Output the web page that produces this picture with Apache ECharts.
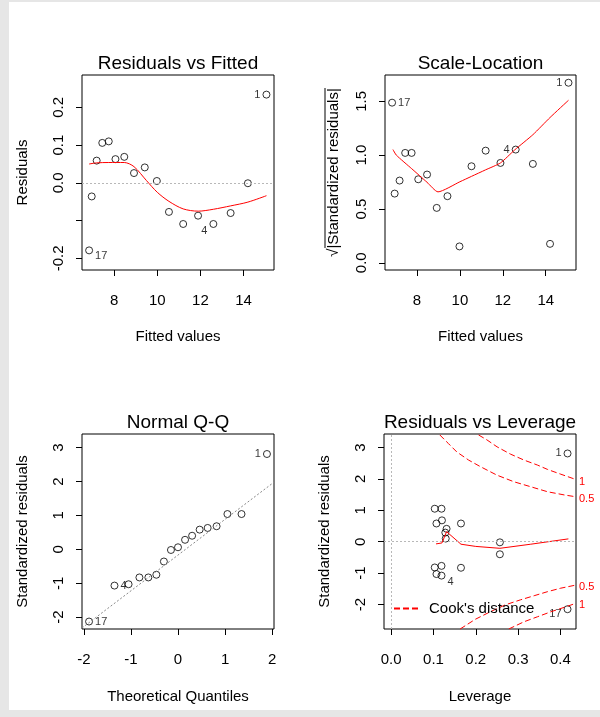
<!DOCTYPE html>
<html>
<head>
<meta charset="utf-8">
<title>lm diagnostics</title>
<script src="https://cdn.jsdelivr.net/npm/echarts@6/dist/echarts.min.js"></script>
<style>
html,body{margin:0;padding:0;background:#fff;}
#main{width:600px;height:717px;}
</style>
</head>
<body>
<div id="main"></div>
<script>
// values
var fittedVals   = [6.84, 6.96, 7.19, 7.45, 7.75, 8.06, 8.47, 8.92, 9.42, 9.98, 10.54, 11.2, 11.89, 12.6, 13.4, 14.2, 15.06];
var residVals    = [-0.179, -0.036, 0.059, 0.106, 0.110, 0.063, 0.069, 0.026, 0.041, 0.005, -0.077, -0.109, -0.087, -0.109, -0.080, -0.001, 0.234];
var sqrtStdResid = [1.488, 0.643, 0.764, 1.021, 1.021, 0.776, 0.820, 0.510, 0.619, 0.152, 0.897, 1.042, 0.928, 1.052, 0.919, 0.176, 1.673];
var fittedIds    = ['17', '', '', '', '', '', '', '', '', '', '', '', '', '4', '', '', '1'];

var residLowessX = [6.84, 7.19, 7.75, 8.47, 8.92, 9.5, 10.0, 10.54, 11.2, 11.9, 12.6, 13.4, 14.2, 15.06];
var residLowessY = [0.050, 0.053, 0.054, 0.054, 0.043, 0.006, -0.025, -0.049, -0.069, -0.075, -0.070, -0.061, -0.051, -0.034];
var scaleLowessX = [6.88, 7.04, 7.75, 8.47, 8.98, 10.0, 10.54, 11.2, 11.89, 12.56, 13.4, 14.2, 15.06];
var scaleLowessY = [1.052, 1.0, 0.875, 0.748, 0.659, 0.753, 0.803, 0.864, 0.928, 1.05, 1.19, 1.35, 1.51];

var theoQuant  = [-1.89, -1.35, -1.05, -0.82, -0.63, -0.46, -0.30, -0.15, 0, 0.15, 0.30, 0.46, 0.63, 0.82, 1.05, 1.35, 1.89];
var qqStdResid = [-2.13, -1.07, -1.03, -0.83, -0.83, -0.75, -0.36, -0.02, 0.06, 0.28, 0.40, 0.58, 0.63, 0.68, 1.04, 1.04, 2.81];
var qqIds      = ['17', '4', '', '', '', '', '', '', '', '', '', '', '', '', '', '', '1'];
var qqLineX = [-2.04, 2.04];
var qqLineY = [-2.32, 1.98];

var leverageVals = [0.103, 0.119, 0.107, 0.120, 0.131, 0.128, 0.129, 0.165, 0.257, 0.257, 0.103, 0.119, 0.107, 0.119, 0.165, 0.417, 0.417];
var levStdResid  = [1.05, 1.05, 0.58, 0.68, 0.41, 0.29, 0.10, 0.58, -0.02, -0.40, -0.82, -0.77, -1.03, -1.08, -0.83, 2.81, -2.15];
var levIds       = ['', '', '', '', '', '', '', '', '', '', '', '', '', '4', '', '1', '17'];
var levLowessX = [0.106, 0.120, 0.131, 0.165, 0.2, 0.257, 0.33, 0.419];
var levLowessY = [-0.07, -0.04, 0.32, -0.08, -0.15, -0.21, -0.08, 0.09];

// Cook's distance contours
var cookHalfUpX = [0.115, 0.135, 0.155, 0.183, 0.211, 0.250, 0.290, 0.330, 0.370, 0.409, 0.437];
var cookHalfUpY = [3.40, 3.13, 2.86, 2.60, 2.39, 2.12, 1.91, 1.75, 1.59, 1.49, 1.43];
var cookOneUpX  = [0.2066, 0.2266, 0.2505, 0.282, 0.314, 0.346, 0.370, 0.401, 0.437];
var cookOneUpY  = [3.40, 3.24, 3.02, 2.79, 2.60, 2.44, 2.30, 2.15, 1.98];
var cookHalfLoX = [0.163, 0.199, 0.2345, 0.270, 0.306, 0.338, 0.370, 0.401, 0.437];
var cookHalfLoY = [-2.78, -2.47, -2.23, -2.01, -1.85, -1.72, -1.59, -1.48, -1.38];
var cookOneLoX  = [0.278, 0.314, 0.346, 0.378, 0.409, 0.437];
var cookOneLoY  = [-2.78, -2.55, -2.39, -2.23, -2.09, -1.96];
var cookLevels  = ['0.5', '1', '0.5', '1'];

var fitTicks   = [8, 10, 12, 14];
var residTicks = [-0.2, -0.1, 0, 0.1, 0.2];
var residTickLabels = [-0.2, 0, 0.1, 0.2];
var scaleTicks = [0, 0.5, 1, 1.5];
var qqXTicks   = [-2, -1, 0, 1, 2];
var stdTicks   = [-2, -1, 0, 1, 2, 3];
var levTicks   = [0, 0.1, 0.2, 0.3, 0.4];

var fontFam = '"Liberation Sans", Arial, sans-serif';
var chart = echarts.init(document.getElementById('main'));

function pairs(xs, ys) {
    return xs.map(function (x, i) { return [x, ys[i]]; });
}

// R puts the id label right of the point on the left half, left of it on the right half
function idData(xs, ys, ids, shift) {
    var mid = (Math.min.apply(null, xs) + Math.max.apply(null, xs)) / 2;
    return xs.map(function (x, i) {
        var item = {value: [x, ys[i]]};
        if (ids[i]) {
            item.label = {
                show: true, formatter: ids[i], position: x > mid ? 'left' : 'right',
                distance: 2, offset: (shift && shift[i]) || [0, 0]
            };
        }
        return item;
    });
}

function axis(gi, min, max, ticks, labelTicks, digits, name, gap, isY) {
    return {
        type: 'value', gridIndex: gi, min: min, max: max,
        splitLine: {show: false}, axisLine: {show: false, onZero: false},
        axisTick: {show: true, length: 6, customValues: ticks, lineStyle: {color: '#000'}},
        axisLabel: {
            customValues: labelTicks, rotate: isY ? 90 : 0, margin: isY ? 16 : 23,
            fontSize: 15, color: '#000', fontFamily: fontFam,
            formatter: function (v) { return v.toFixed(digits); }
        },
        name: name, nameLocation: 'middle', nameGap: gap,
        nameTextStyle: {fontSize: 15, color: '#000', fontFamily: fontFam}
    };
}

function points(gi, data, extra) {
    var s = {
        type: 'scatter', xAxisIndex: gi, yAxisIndex: gi, data: data,
        symbol: 'circle', symbolSize: 7,
        itemStyle: {color: 'rgba(0,0,0,0)', borderColor: '#000', borderWidth: 1},
        label: {color: '#000', fontSize: 11, fontFamily: fontFam},
        emphasis: {disabled: true}
    };
    return Object.assign(s, extra || {});
}

function line(gi, xs, ys, style, smooth, name) {
    return {
        type: 'line', name: name, xAxisIndex: gi, yAxisIndex: gi, data: pairs(xs, ys),
        showSymbol: false, symbol: 'none', smooth: smooth, lineStyle: style,
        itemStyle: {color: style.color},
        emphasis: {disabled: true}
    };
}

function zeroLine(data) {
    return {
        silent: true, symbol: ['none', 'none'], label: {show: false}, animation: false,
        lineStyle: {color: '#b8b8b8', type: [2, 2], width: 1}, data: data
    };
}

var red = {color: '#ff0000', width: 1};
var cookStyle = {color: '#ff0000', width: 1, type: [6, 3]};

function cook(xs, ys, lvl) {
    var s = line(3, xs, ys, cookStyle, false, "Cook's distance");
    s.endLabel = {show: true, formatter: lvl, color: '#ff0000', fontSize: 11, fontFamily: fontFam, distance: 3, offset: [0, 2]};
    return s;
}

var grids = [
    {left: 82, top: 75, width: 192, height: 195},
    {left: 385, top: 75, width: 191, height: 195},
    {left: 82, top: 434, width: 192, height: 195},
    {left: 384, top: 434, width: 192, height: 195}
];
grids.forEach(function (g) {
    g.show = true; g.borderColor = '#000'; g.borderWidth = 1; g.backgroundColor = 'transparent';
});

var titleText = ['Residuals vs Fitted', 'Scale-Location', 'Normal Q-Q', 'Residuals vs Leverage'];
var titles = titleText.map(function (t, i) {
    var g = grids[i];
    return {
        text: t, left: g.left + g.width / 2, top: g.top - 11, padding: 0,
        textAlign: 'center', textVerticalAlign: 'middle',
        textStyle: {fontSize: 19, fontWeight: 'normal', color: '#000', fontFamily: fontFam}
    };
});

var option = {
    animation: false,
    backgroundColor: '#fff',
    title: titles,
    grid: grids,
    legend: {
        data: ["Cook's distance"], left: 393, top: 601, padding: 0, itemWidth: 25, itemHeight: 14,
        selectedMode: false, itemStyle: {opacity: 0},
        textStyle: {fontSize: 15, color: '#000', fontFamily: fontFam, padding: [0, 0, 0, 5]}
    },
    xAxis: [
        axis(0, 6.51, 15.41, fitTicks, fitTicks, 0, 'Fitted values', 59, false),
        axis(1, 6.51, 15.41, fitTicks, fitTicks, 0, 'Fitted values', 59, false),
        axis(2, -2.04, 2.04, qqXTicks, qqXTicks, 0, 'Theoretical Quantiles', 60, false),
        axis(3, -0.017, 0.437, levTicks, levTicks, 1, 'Leverage', 60, false)
    ],
    yAxis: [
        axis(0, -0.231, 0.286, residTicks, residTickLabels, 1, 'Residuals', 52, true),
        axis(1, -0.067, 1.745, scaleTicks, scaleTicks, 1, '√|Standardized residuals|', 44, true),
        axis(2, -2.35, 3.40, stdTicks, stdTicks, 0, 'Standardized residuals', 52, true),
        axis(3, -2.78, 3.43, stdTicks, stdTicks, 0, 'Standardized residuals', 52, true)
    ],
    series: [
        points(0, idData(fittedVals, residVals, fittedIds, {0: [0, 6], 13: [0, 7]}), {markLine: zeroLine([{yAxis: 0}])}),
        line(0, residLowessX, residLowessY, red, 0.3),
        points(1, idData(fittedVals, sqrtStdResid, fittedIds)),
        line(1, scaleLowessX, scaleLowessY, red, 0.2),
        points(2, idData(theoQuant, qqStdResid, qqIds)),
        line(2, qqLineX, qqLineY, {color: '#888', width: 1, type: [2, 2]}, false),
        points(3, idData(leverageVals, levStdResid, levIds, {13: [0, 6], 16: [0, 5]}),
            {markLine: zeroLine([{yAxis: 0}, {xAxis: 0}])}),
        line(3, levLowessX, levLowessY, red, false),
        cook(cookHalfUpX, cookHalfUpY, cookLevels[0]),
        cook(cookOneUpX, cookOneUpY, cookLevels[1]),
        cook(cookHalfLoX, cookHalfLoY, cookLevels[2]),
        cook(cookOneLoX, cookOneLoY, cookLevels[3])
    ],
    graphic: [
        {type: 'rect', silent: true, z: -10, shape: {x: 0, y: 0, width: 9, height: 717}, style: {fill: '#e6e6e6'}},
        {type: 'rect', silent: true, z: -10, shape: {x: 0, y: 0, width: 600, height: 2}, style: {fill: '#e6e6e6'}},
        {type: 'rect', silent: true, z: -10, shape: {x: 0, y: 710, width: 600, height: 7}, style: {fill: '#e6e6e6'}},
        // overline of the square root sign
        {type: 'line', silent: true, shape: {x1: 325, y1: 88, x2: 325, y2: 248}, style: {stroke: '#000', lineWidth: 1}}
    ]
};

chart.setOption(option);
</script>
</body>
</html>
